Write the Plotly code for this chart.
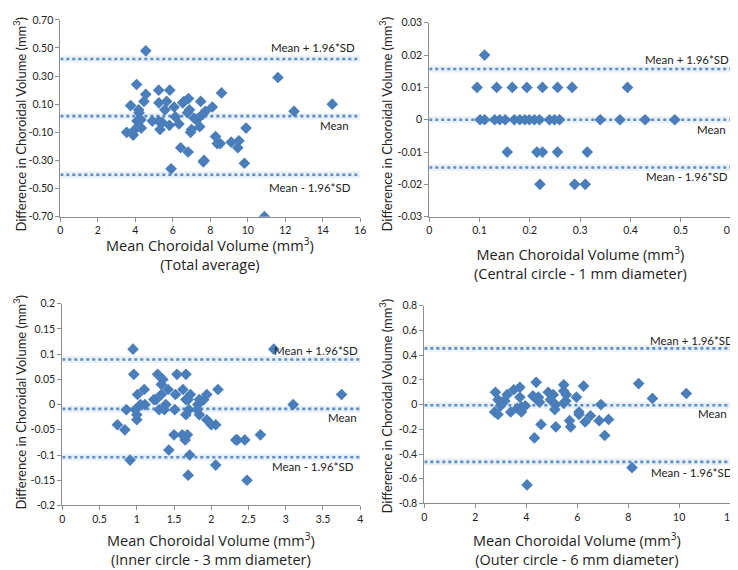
import plotly.graph_objects as go

# ---------- data ----------
# Panel 1: Total average
p1_x = [4.56, 4.07, 4.56, 5.25, 5.84, 3.75, 4.46, 4.18, 5.26, 5.67, 6.07, 5.58, 6.53, 6.84, 6.89,
        6.79, 7.49, 8.11, 8.60, 7.74, 7.61, 7.37, 7.14, 6.14, 4.09, 4.30, 4.91, 5.25, 5.44, 5.32,
        5.82, 6.33, 3.54, 3.89, 3.98, 4.32, 7.00, 6.95, 7.44, 8.28, 8.37, 8.53, 9.12, 9.53, 9.47,
        9.91, 9.82, 6.42, 6.82, 7.63, 7.67, 5.91, 10.89, 11.61, 12.47, 14.51, 4.20, 7.25, 6.60]
p1_y = [0.48, 0.24, 0.17, 0.20, 0.20, 0.09, 0.12, 0.06, 0.11, 0.12, 0.08, 0.06, 0.11, 0.14, 0.06,
        0.04, 0.12, 0.08, 0.18, 0.05, 0.03, 0.00, 0.00, 0.01, -0.02, -0.01, -0.02, -0.02, -0.03, -0.08,
        -0.05, -0.04, -0.10, -0.12, -0.08, -0.07, -0.08, -0.10, -0.06, -0.13, -0.18, -0.18, -0.17, -0.16, -0.21,
        -0.07, -0.32, -0.21, -0.24, -0.31, -0.30, -0.36, -0.70, 0.29, 0.05, 0.10, 0.04, -0.01, 0.12]
p1_limits = [0.422, 0.015, -0.402]

# Panel 2: Central circle
p2_x = [0.110,
        0.095, 0.134, 0.165, 0.194, 0.225, 0.255, 0.284, 0.394,
        0.101, 0.110, 0.130, 0.140, 0.151, 0.169, 0.180, 0.190, 0.199, 0.209, 0.219, 0.239, 0.249,
        0.259, 0.340, 0.379, 0.429, 0.488,
        0.155, 0.214, 0.225, 0.255, 0.314,
        0.220, 0.289, 0.310]
p2_y = [0.02,
        0.01, 0.01, 0.01, 0.01, 0.01, 0.01, 0.01, 0.01,
        0, 0, 0, 0, 0, 0, 0, 0, 0, 0, 0, 0, 0,
        0, 0, 0, 0, 0,
        -0.01, -0.01, -0.01, -0.01, -0.01,
        -0.02, -0.02, -0.02]
p2_limits = [0.0157, 0.0, -0.0148]

# Panel 3: Inner circle
p3_x = [0.95, 0.96, 1.01, 1.10, 0.86, 0.74, 0.84, 1.00, 1.00, 0.98, 1.05, 1.11, 0.91, 1.28, 1.35,
        1.33, 1.33, 1.23, 1.26, 1.30, 1.39, 1.37, 1.42, 1.54, 1.66, 1.62, 1.52, 1.72, 1.69, 1.66,
        1.51, 1.70, 1.66, 1.50, 1.61, 1.68, 1.65, 1.43, 1.71, 1.69, 1.82, 1.84, 1.90, 1.94, 1.84,
        1.81, 1.94, 2.00, 2.06, 2.09, 2.06, 2.33, 2.35, 2.45, 2.48, 2.66, 2.84, 3.10, 3.75]
p3_y = [0.11, 0.06, 0.02, 0.03, -0.01, -0.04, -0.05, -0.03, -0.02, -0.01, 0.00, 0.00, -0.11, 0.06, 0.05,
        0.04, 0.02, 0.01, 0.01, -0.01, 0.00, -0.01, 0.03, 0.06, 0.06, 0.03, 0.02, 0.02, 0.01, 0.01,
        -0.01, -0.01, -0.02, -0.06, -0.06, -0.06, -0.07, -0.09, -0.10, -0.14, 0.00, 0.01, 0.01, 0.02, -0.02,
        -0.01, -0.03, -0.04, -0.04, 0.03, -0.12, -0.07, -0.07, -0.07, -0.15, -0.06, 0.11, 0.00, 0.02]
p3_limits = [0.0895, -0.0085, -0.1045]

# Panel 4: Outer circle
p4_x = [2.79, 2.89, 2.76, 2.89, 2.99, 3.16, 3.25, 3.51, 3.75, 3.75, 3.39, 3.81, 3.81, 3.96, 4.39,
        4.26, 4.39, 4.48, 4.52, 4.58, 4.32, 4.03, 4.86, 5.06, 4.95, 5.15, 5.12, 5.16, 5.47, 5.47,
        5.57, 5.55, 5.47, 5.70, 5.74, 5.97, 6.07, 6.07, 6.25, 6.31, 6.52, 6.86, 6.93, 7.08, 7.23,
        8.41, 8.15, 8.95, 10.28, 3.05, 3.65]
p4_y = [0.10, 0.04, -0.06, -0.08, -0.01, 0.03, 0.08, 0.12, 0.14, 0.06, -0.06, -0.06, -0.02, -0.01, 0.18,
        0.07, 0.05, 0.06, 0.02, -0.16, -0.27, -0.65, 0.10, 0.08, 0.04, 0.00, -0.04, -0.18, 0.16, 0.11,
        0.08, 0.03, 0.01, -0.13, -0.18, 0.06, -0.06, -0.08, 0.15, -0.14, -0.09, -0.13, 0.00, -0.25, -0.12,
        0.17, -0.51, 0.05, 0.09, 0.02, -0.03]
p4_limits = [0.455, -0.005, -0.463]

limit_labels = ["Mean + 1.96*SD", "Mean", "Mean - 1.96*SD"]

x_title = "Mean Choroidal Volume (mm<sup>3</sup>)"
y_title = "Difference in Choroidal Volume (mm<sup>3</sup>)"
subtitles = ["(Total average)", "(Central circle - 1 mm diameter)",
             "(Inner circle - 3 mm diameter)", "(Outer circle - 6 mm diameter)"]

# tick definitions
p1_yt = [0.70, 0.50, 0.30, 0.10, -0.10, -0.30, -0.50, -0.70]
p1_ytt = ["0.70", "0.50", "0.30", "0.10", "-0.10", "-0.30", "-0.50", "-0.70"]
p1_xt = [0, 2, 4, 6, 8, 10, 12, 14, 16]
p2_yt = [0.03, 0.02, 0.01, 0, -0.01, -0.02, -0.03]
p2_ytt = ["0.03", "0.02", "0.01", "0", "-0.01", "-0.02", "-0.03"]
p2_xt = [0, 0.1, 0.2, 0.3, 0.4, 0.5, 0.6]
p2_xtt = ["0", "0.1", "0.2", "0.3", "0.4", "0.5", "0.6"]
p3_yt = [0.2, 0.15, 0.1, 0.05, 0, -0.05, -0.1, -0.15, -0.2]
p3_ytt = ["0.2", "0.15", "0.1", "0.05", "0", "-0.05", "-0.1", "-0.15", "-0.2"]
p3_xt = [0, 0.5, 1, 1.5, 2, 2.5, 3, 3.5, 4]
p3_xtt = ["0", "0.5", "1", "1.5", "2", "2.5", "3", "3.5", "4"]
p4_yt = [0.8, 0.6, 0.4, 0.2, 0, -0.2, -0.4, -0.6, -0.8]
p4_ytt = ["0.8", "0.6", "0.4", "0.2", "0", "-0.2", "-0.4", "-0.6", "-0.8"]
p4_xt = [0, 2, 4, 6, 8, 10, 12]

# ---------- styling ----------
W, H = 738, 570
FONT = "Lato, Liberation Sans, sans-serif"
XFONT = "Open Sans, Lato, sans-serif"
BLUE = "#4a7ebb"
GLOW = "rgba(79,129,189,0.12)"
AXC = "#8c8c8c"
TXT = "#222222"

panels = [
    dict(x=p1_x, y=p1_y, lim=p1_limits, xr=[0, 16], yr=[-0.70, 0.70], xt=p1_xt, xtt=[str(v) for v in p1_xt],
         yt=p1_yt, ytt=p1_ytt, px=(50, 354), py=(6, 207),
         lab=[(13.5, 0.50), (14.65, -0.055), (13.3, -0.49)],
         xtitle_c=245.5, ytitle=(9, 112)),
    dict(x=p2_x, y=p2_y, lim=p2_limits, xr=[0, 0.6], yr=[-0.03, 0.03], xt=p2_xt, xtt=p2_xtt,
         yt=p2_yt, ytt=p2_ytt, px=(424, 730), py=(9, 207),
         lab=[(0.513, 0.0185), (0.562, -0.0029), (0.512, -0.0176)],
         xtitle_c=254, ytitle=(380, 112)),
    dict(x=p3_x, y=p3_y, lim=p3_limits, xr=[0, 4], yr=[-0.2, 0.2], xt=p3_xt, xtt=p3_xtt,
         yt=p3_yt, ytt=p3_ytt, px=(52, 354), py=(296, 502),
         lab=[(3.40, 0.108), (3.76, -0.025), (3.36, -0.122)],
         xtitle_c=546, ytitle=(9, 396)),
    dict(x=p4_x, y=p4_y, lim=p4_limits, xr=[0, 12], yr=[-0.8, 0.8], xt=p4_xt, xtt=[str(v) for v in p4_xt],
         yt=p4_yt, ytt=p4_ytt, px=(419, 729), py=(298, 500),
         lab=[(10.5, 0.52), (11.3, -0.07), (10.5, -0.55)],
         xtitle_c=546, ytitle=(380, 400)),
]

fig = go.Figure()
annotations = []
layout = {}

for i, p in enumerate(panels):
    n = "" if i == 0 else str(i + 1)
    xa, ya = "x" + n, "y" + n
    # limit lines (glow + dotted)
    for v in p["lim"]:
        fig.add_trace(go.Scatter(x=p["xr"], y=[v, v], mode="lines", xaxis=xa, yaxis=ya,
                                 line=dict(color=GLOW, width=7), hoverinfo="skip", showlegend=False))
        fig.add_trace(go.Scatter(x=p["xr"], y=[v, v], mode="lines", xaxis=xa, yaxis=ya,
                                 line=dict(color="#5b8ec8", width=2.6, dash="dot"),
                                 hoverinfo="skip", showlegend=False))
    fig.add_trace(go.Scatter(x=p["x"], y=p["y"], mode="markers", xaxis=xa, yaxis=ya,
                             marker=dict(symbol="diamond", size=9, color=BLUE,
                                         line=dict(width=0)),
                             showlegend=False))
    x0, x1 = p["px"]
    y0, y1 = p["py"]
    layout["xaxis" + n] = dict(domain=[x0 / W, x1 / W], range=p["xr"], anchor=ya,
                               tickvals=p["xt"], ticktext=p["xtt"], showgrid=False, zeroline=False,
                               showline=True, linecolor=AXC, linewidth=1, ticks="outside",
                               ticklen=4, tickcolor=AXC, tickfont=dict(family=FONT, size=10.5, color=TXT),
                               fixedrange=True)
    layout["yaxis" + n] = dict(domain=[1 - y1 / H, 1 - y0 / H], range=p["yr"], anchor=xa,
                               tickvals=p["yt"], ticktext=p["ytt"], showgrid=False, zeroline=False,
                               showline=True, linecolor=AXC, linewidth=1, ticks="outside",
                               ticklen=4, tickcolor=AXC, tickfont=dict(family=FONT, size=10.5, color=TXT),
                               fixedrange=True)
    # limit labels
    for (lx, ly), txt in zip(p["lab"], limit_labels):
        annotations.append(dict(x=lx, y=ly, xref=xa, yref=ya, text=txt, showarrow=False,
                                xanchor="center", yanchor="middle",
                                font=dict(family=FONT, size=11.5, color=TXT)))
    # x axis title (two lines in one text)
    cx = (x0 + x1) / 2 / W
    annotations.append(dict(x=cx, y=1 - p["xtitle_c"] / H, xref="paper", yref="paper",
                            text=x_title + "<br>" + subtitles[i],
                            showarrow=False, xanchor="center", yanchor="middle", align="center",
                            font=dict(family=XFONT, size=14.5, color=TXT)))
    yx, yy = p["ytitle"]
    annotations.append(dict(x=yx / W, y=1 - yy / H, xref="paper", yref="paper", text=y_title,
                            showarrow=False, xanchor="center", yanchor="middle", textangle=-90,
                            font=dict(family=FONT, size=13, color=TXT)))

fig.update_layout(width=W, height=H, margin=dict(l=0, r=0, t=0, b=0),
                  paper_bgcolor="white", plot_bgcolor="white",
                  annotations=annotations, **layout)
fig.write_html("out.html", config={"displayModeBar": False})
